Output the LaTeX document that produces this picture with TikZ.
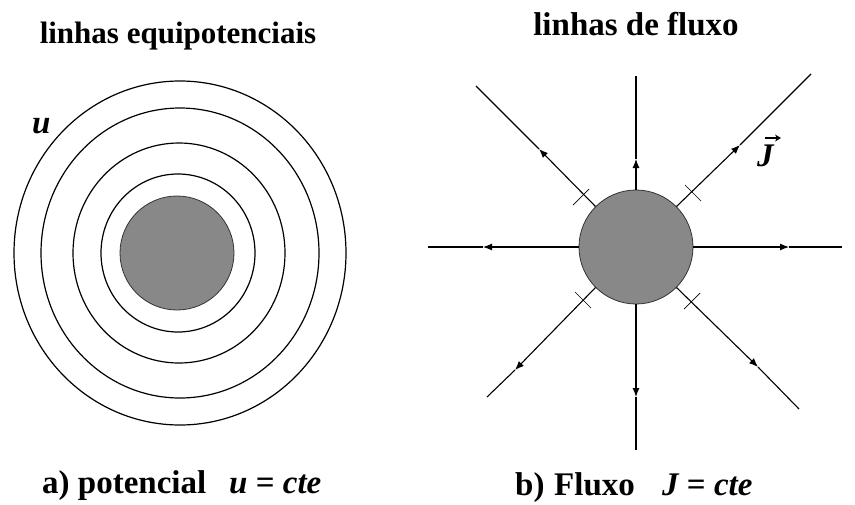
\documentclass[tikz,border=0pt]{standalone}
\usepackage{fontspec}
\setmainfont{Liberation Serif}
\usetikzlibrary{arrows.meta}
\definecolor{coregray}{RGB}{136,136,136}
\begin{document}
\begin{tikzpicture}[x=1pt,y=-1pt,
  ring/.style={draw=black,line width=1.2pt},
  core/.style={circle,draw=black!80,fill=coregray,line width=0.8pt,minimum size=114pt,inner sep=0pt},
  flux/.style={line width=1.1pt},
  arr/.style={line width=1.1pt,-{Latex[length=9pt,width=7pt]}},
  tickmark/.style={line width=0.7pt},
  lbl/.style={font=\fontsize{33}{33}\selectfont\bfseries,inner sep=0pt,anchor=base west},
]
\useasboundingbox (0,0) rectangle (855,504);

% ---- left: equipotential lines
\draw[ring] (180,253) ellipse[x radius=166,y radius=172];
\draw[ring] (180,253) ellipse[x radius=139,y radius=145];
\draw[ring] (179,253) ellipse[x radius=106,y radius=110];
\draw[ring] (178,253) ellipse[x radius=77,y radius=79];
\node[core] (lc) at (177,253) {};

% ---- right: flux lines
\node[core] (c) at (636,247) {};
\coordinate (tN) at (636,159);  \coordinate (eN) at (636,76);
\coordinate (tS) at (636,397);  \coordinate (eS) at (636,450);
\coordinate (tW) at (483,247);  \coordinate (eW) at (428,247);
\coordinate (tE) at (789,247);  \coordinate (eE) at (842,247);
\coordinate (tNW) at (539,149); \coordinate (eNW) at (476,86);
\coordinate (tNE) at (740,145); \coordinate (eNE) at (811,74);
\coordinate (tSW) at (515,370); \coordinate (eSW) at (487,397);
\coordinate (tSE) at (758,367); \coordinate (eSE) at (799,409);

\foreach \d/\a in {N/90,S/270,W/180,E/0,NW/135,NE/45,SW/225,SE/315}{
  \draw[arr] (c.\a) -- (t\d);
  \draw[flux] (t\d) -- (e\d);
}

% tick marks
\coordinate (k1a) at (573,205); \coordinate (k1b) at (589,189);
\coordinate (k2a) at (685,185); \coordinate (k2b) at (701,201);
\coordinate (k3a) at (575,292); \coordinate (k3b) at (591,308);
\coordinate (k4a) at (684,309); \coordinate (k4b) at (700,293);
\draw[tickmark] (k1a) -- (k1b);
\draw[tickmark] (k2a) -- (k2b);
\draw[tickmark] (k3a) -- (k3b);
\draw[tickmark] (k4a) -- (k4b);

% ---- labels
\node[lbl,anchor=base,font=\fontsize{31}{31}\selectfont\bfseries] (h1) at (178,43) {linhas equipotenciais};
\node[lbl,anchor=base] (h2) at (636,35) {linhas de fluxo};
\node[lbl] (ca) at (42,493) {a) potencial};
\node[lbl] (cu) at (229,493) {\itshape u \upshape= \itshape cte};
\node[lbl] (cb) at (515,495) {b)};
\node[lbl] (cf) at (554,495) {Fluxo};
\node[lbl] (cj) at (662,495) {\itshape J \upshape= \itshape cte};
\node[lbl] (ul) at (32,133) {\itshape u};
\node[lbl] (jl) at (757,166) {\itshape J};
\coordinate (ja) at (765,138); \coordinate (jb) at (781,138);
\draw[line width=2.2pt,-{Stealth[length=6pt,width=7pt]}] (ja) -- (jb);
\end{tikzpicture}
\end{document}
